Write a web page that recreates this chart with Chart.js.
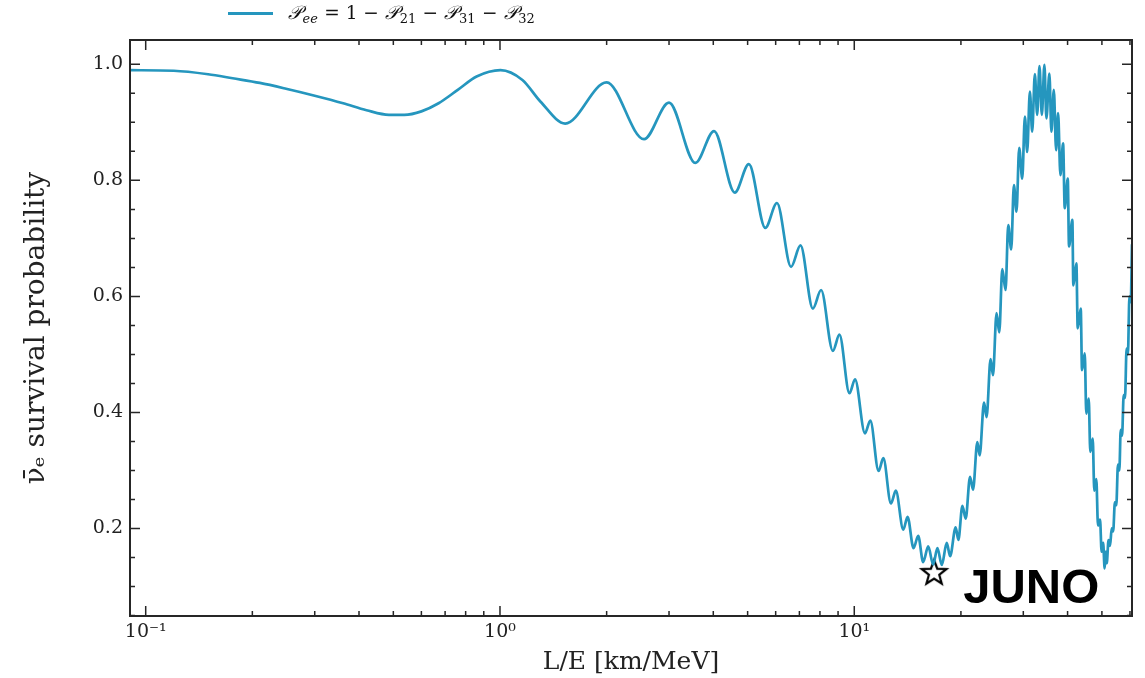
<!DOCTYPE html>
<html>
<head>
<meta charset="utf-8">
<script src="https://cdn.jsdelivr.net/npm/chart.js@4.4.1/dist/chart.umd.min.js"></script>
<style>
  html, body { margin: 0; padding: 0; background: #fff; }
  #wrap { width: 1145px; height: 678px; position: relative; }
</style>
</head>
<body>
<div id="wrap"><canvas id="probChart"></canvas></div>
<script>
// L/E [km/MeV] and survival probability
const lOverE = [
  0.0903, 0.120, 0.150, 0.176, 0.210, 0.249, 0.300, 0.361, 0.420, 0.486,
  0.537, 0.600, 0.671, 0.760, 0.859, 1.003, 1.157, 1.30, 1.528, 2.00,
  2.55, 3.00, 3.56, 4.02, 4.60, 5.04, 5.61, 6.05, 6.63, 7.05,
  7.64, 8.06, 8.70, 9.08, 9.69, 10.05, 10.72, 11.10, 11.71, 12.08,
  12.69, 13.10, 13.75, 14.14, 14.70, 15.15, 15.65, 16.17, 16.70, 17.17,
  17.66, 18.24, 18.64, 19.33, 19.67, 20.19, 20.63, 21.22, 21.64, 22.25,
  22.59, 23.24, 23.63, 24.25, 24.63, 25.21, 25.66, 26.17, 26.73, 27.20,
  27.73, 28.22, 28.70, 29.21, 29.79, 30.31, 30.76, 31.31, 31.78, 32.34,
  32.83, 33.32, 33.84, 34.41, 34.86, 35.54, 36.01, 36.58, 37.13, 37.61,
  38.18, 38.85, 39.27, 40.05, 40.38, 41.26, 41.53, 42.35, 42.73, 43.57,
  43.94, 44.72, 45.18, 45.89, 46.37, 47.10, 47.59, 48.21, 48.75, 49.40,
  49.90, 50.40, 50.90, 51.30, 51.60, 52.20, 52.70, 53.30, 53.80, 54.40,
  54.90, 55.50, 56.00, 56.50, 57.00, 57.60, 58.10, 58.70, 59.20, 59.80,
  60.30, 60.80
];
const survival = [
  0.990, 0.989, 0.983, 0.976, 0.968, 0.958, 0.946, 0.933, 0.921, 0.913,
  0.913, 0.919, 0.933, 0.956, 0.979, 0.990, 0.973, 0.936, 0.898, 0.969,
  0.871, 0.934, 0.830, 0.885, 0.779, 0.828, 0.718, 0.761, 0.651, 0.688,
  0.579, 0.611, 0.506, 0.534, 0.433, 0.457, 0.364, 0.386, 0.299, 0.321,
  0.243, 0.265, 0.198, 0.220, 0.166, 0.187, 0.142, 0.169, 0.138, 0.166,
  0.137, 0.175, 0.152, 0.202, 0.180, 0.239, 0.217, 0.289, 0.267, 0.349,
  0.326, 0.417, 0.392, 0.492, 0.464, 0.571, 0.538, 0.647, 0.611, 0.723,
  0.681, 0.792, 0.746, 0.856, 0.803, 0.910, 0.849, 0.953, 0.884, 0.983,
  0.913, 0.997, 0.913, 0.999, 0.907, 0.984, 0.884, 0.956, 0.852, 0.916,
  0.809, 0.864, 0.752, 0.803, 0.686, 0.732, 0.619, 0.657, 0.545, 0.579,
  0.473, 0.502, 0.398, 0.424, 0.332, 0.355, 0.265, 0.285, 0.205, 0.215,
  0.160, 0.175, 0.131, 0.160, 0.140, 0.180, 0.170, 0.200, 0.195, 0.245,
  0.240, 0.310, 0.300, 0.370, 0.360, 0.430, 0.425, 0.510, 0.500, 0.600,
  0.590, 0.690
];

const junoPoint = [16.8, 0.123];
const junoLabelAt = [20.3, 0.071];

const xTickValues = [0.1, 1, 10];
const xTickLabels = ['10\u207B\u00B9', '10\u2070', '10\u00B9'];
const yTickValues = [0.2, 0.4, 0.6, 0.8, 1.0];
const yTickLabels = ['0.2', '0.4', '0.6', '0.8', '1.0'];

const lineColor = '#2596be';
const serif = "'DejaVu Serif', serif";

// hollow five point star used as the JUNO marker
function starImage(r) {
    const c = document.createElement('canvas');
    const s = Math.ceil(r * 2 + 6);
    c.width = s;
    c.height = s;
    const g = c.getContext('2d');
    g.beginPath();
    for (let i = 0; i < 10; i++) {
        const rad = i % 2 ? r * 0.42 : r;
        const ang = -Math.PI / 2 + i * Math.PI / 5;
        g.lineTo(s / 2 + rad * Math.cos(ang), s / 2 + rad * Math.sin(ang));
    }
    g.closePath();
    g.fillStyle = '#fff';
    g.fill();
    g.lineWidth = 2.2;
    g.lineJoin = 'miter';
    g.strokeStyle = '#000';
    g.stroke();
    return c;
}

// frame and inward ticks on all four sides
const frameTicks = {
    id: 'frameTicks',
    afterDatasetsDraw(chart) {
        const { ctx, chartArea: a, scales: { x, y } } = chart;
        ctx.save();
        ctx.strokeStyle = '#262626';
        ctx.lineWidth = 1.5;

        for (let e = -2; e <= 2; e++) {
            for (let m = 1; m <= 9; m++) {
                const v = m * Math.pow(10, e);
                if (v <= x.min || v >= x.max) continue;
                const px = x.getPixelForValue(v);
                const len = m === 1 ? 10 : 5;
                ctx.beginPath();
                ctx.moveTo(px, a.bottom);
                ctx.lineTo(px, a.bottom - len);
                ctx.moveTo(px, a.top);
                ctx.lineTo(px, a.top + len);
                ctx.stroke();
            }
        }

        for (let k = 1; k <= 20; k++) {
            const v = k * 0.05;
            if (v <= y.min || v >= y.max) continue;
            const py = y.getPixelForValue(v);
            const len = k % 4 === 0 ? 10 : 5;
            ctx.beginPath();
            ctx.moveTo(a.left, py);
            ctx.lineTo(a.left + len, py);
            ctx.moveTo(a.right, py);
            ctx.lineTo(a.right - len, py);
            ctx.stroke();
        }

        ctx.lineWidth = 2;
        ctx.strokeRect(a.left, a.top, a.right - a.left, a.bottom - a.top);

        // JUNO label
        ctx.fillStyle = '#000';
        ctx.font = "bold 49px 'Liberation Sans', Arial, sans-serif";
        ctx.textAlign = 'left';
        ctx.textBaseline = 'alphabetic';
        ctx.fillText('JUNO', x.getPixelForValue(junoLabelAt[0]), y.getPixelForValue(junoLabelAt[1]));
        ctx.restore();
    }
};

// legend above the frame, math style label
const mathLegend = {
    id: 'mathLegend',
    afterDraw(chart) {
        const ctx = chart.ctx;
        const base = 19;
        const big = "italic 19px 'DejaVu Serif', serif";
        const norm = "18.5px 'DejaVu Serif', serif";
        const subIt = "italic 13px 'DejaVu Serif', serif";
        const sub = "13px 'DejaVu Serif', serif";
        const parts = [
            ['\uD835\uDCAB', big, 0], ['ee', subIt, 4], [' = 1 \u2212 ', norm, 0],
            ['\uD835\uDCAB', big, 0], ['21', sub, 4], [' \u2212 ', norm, 0],
            ['\uD835\uDCAB', big, 0], ['31', sub, 4], [' \u2212 ', norm, 0],
            ['\uD835\uDCAB', big, 0], ['32', sub, 4]
        ];
        ctx.save();
        ctx.strokeStyle = lineColor;
        ctx.lineWidth = 2.8;
        ctx.beginPath();
        ctx.moveTo(228, 13.5);
        ctx.lineTo(273, 13.5);
        ctx.stroke();
        ctx.fillStyle = '#111';
        ctx.textBaseline = 'alphabetic';
        let px = 288;
        parts.forEach(([t, f, dy]) => {
            ctx.font = f;
            ctx.fillText(t, px, base + dy);
            px += ctx.measureText(t).width + 0.5;
        });
        ctx.restore();
    }
};

const ctx = document.getElementById('probChart').getContext('2d');

new Chart(ctx, {
    type: 'line',
    data: {
        datasets: [
            {
                label: 'Pee',
                data: lOverE.map((v, i) => ({ x: v, y: survival[i] })),
                borderColor: lineColor,
                borderWidth: 2.7,
                pointRadius: 0,
                cubicInterpolationMode: 'monotone',
                fill: false
            },
            {
                type: 'scatter',
                label: 'JUNO',
                data: [{ x: junoPoint[0], y: junoPoint[1] }],
                pointStyle: starImage(13),
                pointRadius: 12
            }
        ]
    },
    options: {
        responsive: true,
        maintainAspectRatio: false,
        animation: false,
        devicePixelRatio: 1,
        layout: { padding: { top: 40, right: 10, bottom: 0, left: 0 } },
        plugins: {
            legend: { display: false },
            tooltip: { enabled: false }
        },
        scales: {
            x: {
                type: 'logarithmic',
                min: 0.0903,
                max: 60.8,
                grid: { display: false, drawTicks: false },
                border: { display: false },
                afterBuildTicks: s => { s.ticks = xTickValues.map(v => ({ value: v })); },
                afterFit: s => { s.height = 62; },
                ticks: {
                    autoSkip: false,
                    maxRotation: 0,
                    padding: 5,
                    color: '#222',
                    font: { family: serif, size: 19 },
                    callback: v => {
                        const i = xTickValues.indexOf(v);
                        return i >= 0 ? xTickLabels[i] : '';
                    }
                },
                title: {
                    display: true,
                    text: 'L/E [km/MeV]',
                    color: '#222',
                    font: { family: serif, size: 25 },
                    padding: { top: 0, bottom: 1 }
                }
            },
            y: {
                min: 0.049,
                max: 1.042,
                grid: { display: false, drawTicks: false },
                border: { display: false },
                afterBuildTicks: s => { s.ticks = yTickValues.map(v => ({ value: v })); },
                afterFit: s => { s.width = 130; },
                ticks: {
                    padding: 7,
                    color: '#222',
                    font: { family: serif, size: 19 },
                    callback: v => {
                        const i = yTickValues.findIndex(t => Math.abs(t - v) < 1e-6);
                        return i >= 0 ? yTickLabels[i] : '';
                    }
                },
                title: {
                    display: true,
                    text: '\u03BD\u0304\u2091 survival probability',
                    color: '#222',
                    font: { family: serif, size: 28 },
                    padding: { top: 20, bottom: 0 }
                }
            }
        }
    },
    plugins: [frameTicks, mathLegend]
});
</script>
</body>
</html>
